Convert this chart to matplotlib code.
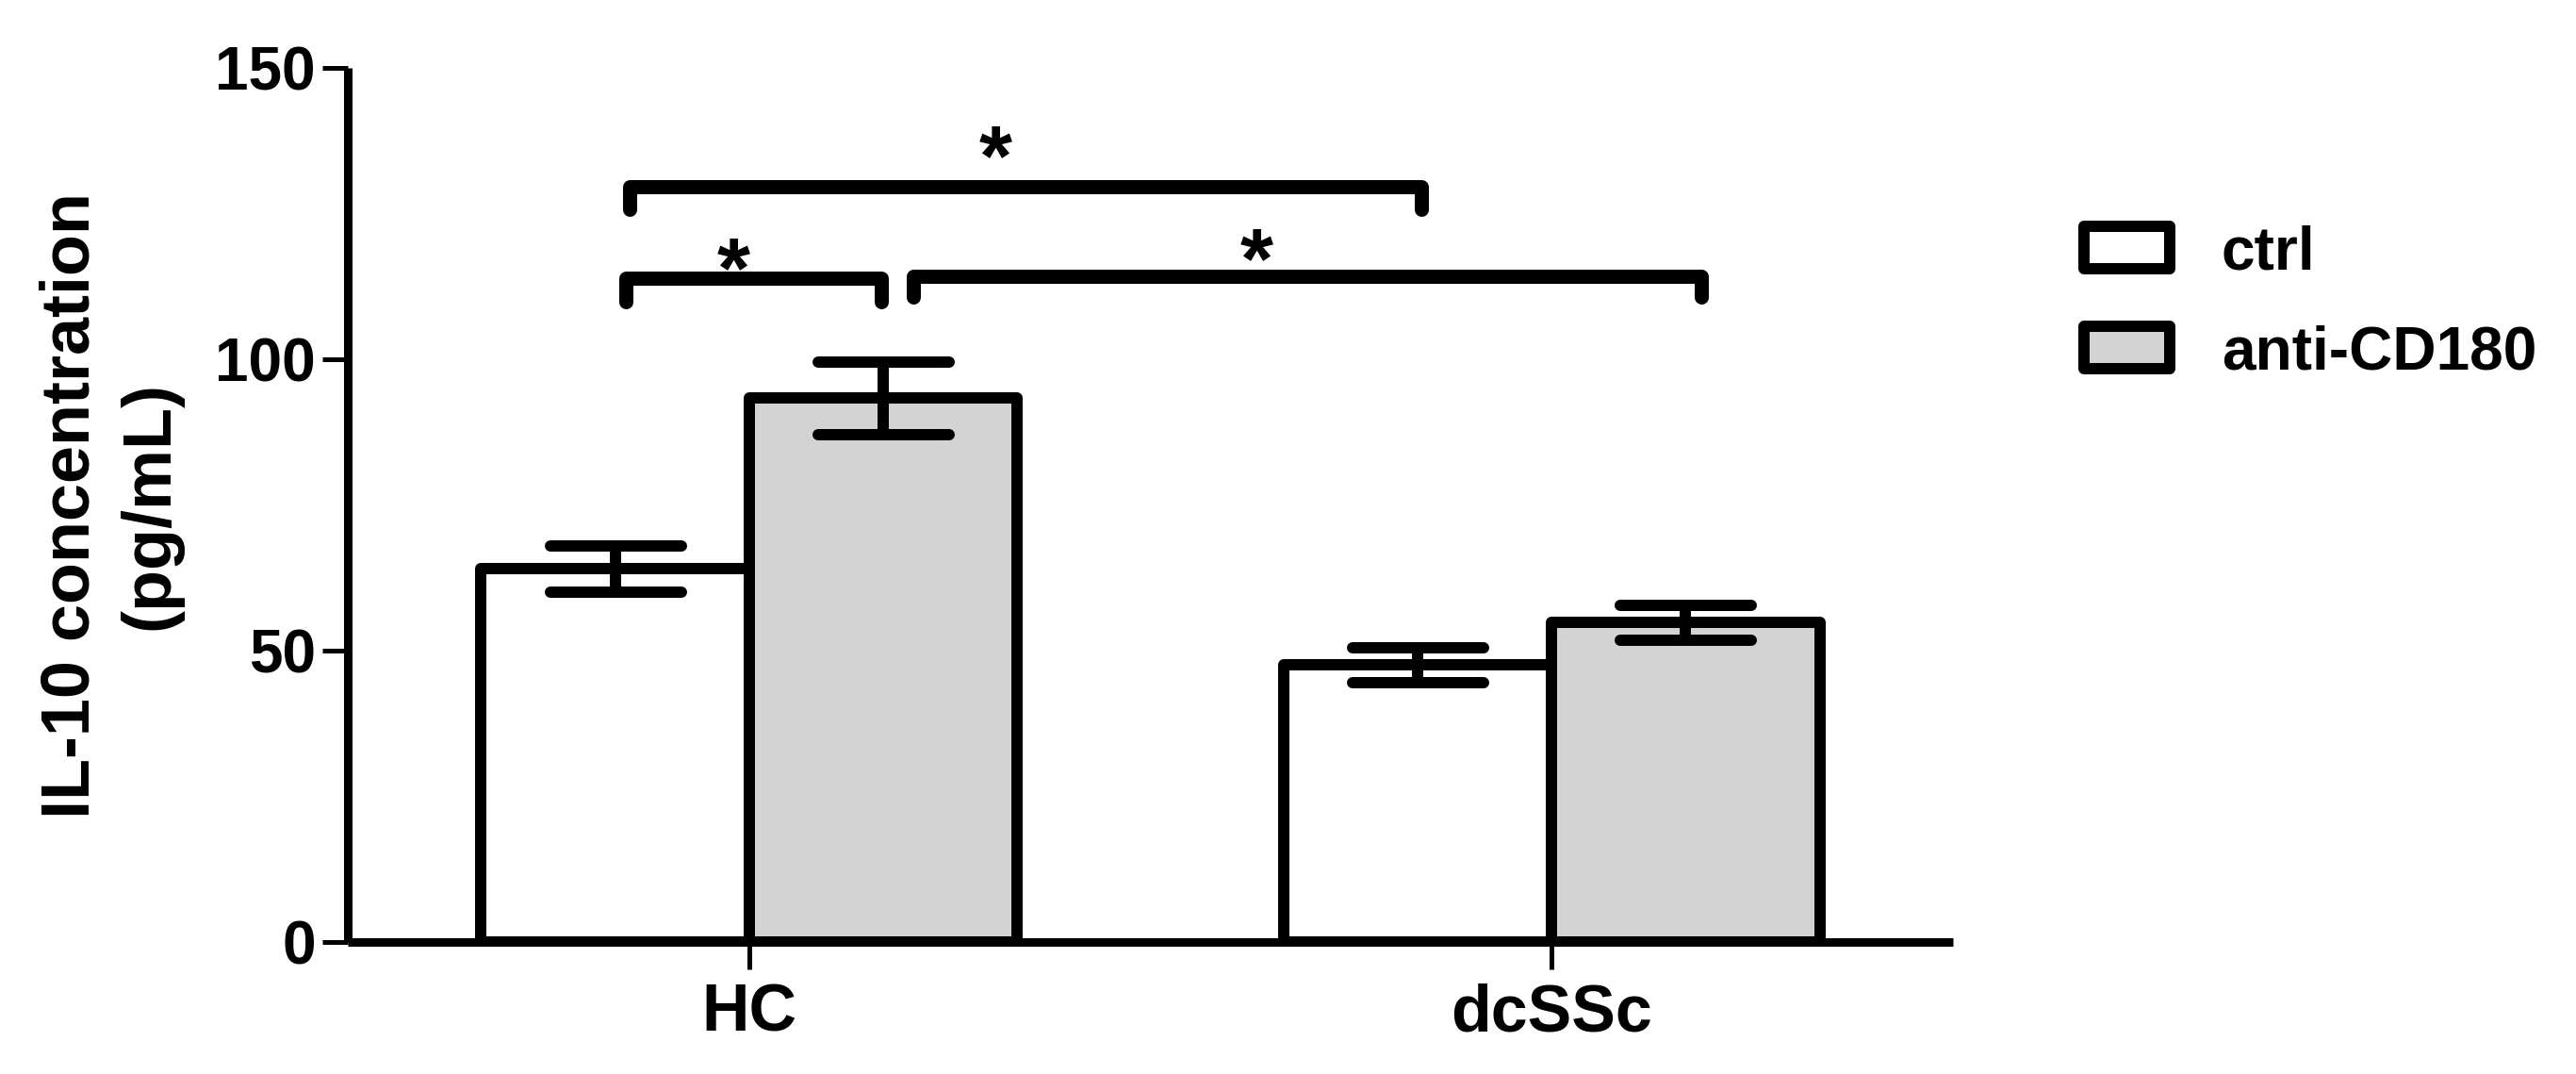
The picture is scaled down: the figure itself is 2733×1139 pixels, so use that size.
import numpy as np
import matplotlib
matplotlib.use("Agg")
import matplotlib.pyplot as plt
from matplotlib.markers import MarkerStyle

plt.rcParams['font.family'] = ['Liberation Sans', 'DejaVu Sans']
plt.rcParams['font.weight'] = 'bold'

# data
groups = ["HC", "dcSSc"]
series = ["ctrl", "anti-CD180"]
ctrl_mean = [64.0, 47.5]
ctrl_err = [4.0, 3.0]
anti_mean = [93.3, 54.8]
anti_err = [6.2, 3.0]
colors = ["white", "#d3d3d3"]

# significance brackets: x start, x end, y of bar, y of ends
brackets = [(-0.149, 0.838, 129.6, 125.8),
            (-0.153, 0.165, 113.9, 109.9),
            (0.205, 1.186, 114.2, 110.6)]
star_x = [0.307, -0.019, 0.632]
star_y = [138.3, 119.1, 120.7]

W, H, DPI = 2733, 1139, 72
fig = plt.figure(figsize=(W / DPI, H / DPI), dpi=DPI)
ax = fig.add_axes([369 / W, 1 - 999 / H, (2072 - 369) / W, (999 - 72) / H])

x = np.arange(len(groups))
w = 0.334
lw = 12

bar_kw = dict(edgecolor="black", linewidth=lw, joinstyle="round", zorder=2)
ax.bar(x - w / 2, ctrl_mean, w, color=colors[0], label=series[0], **bar_kw)
ax.bar(x + w / 2, anti_mean, w, color=colors[1], label=series[1], **bar_kw)

for xs, m, e in [(x - w / 2, ctrl_mean, ctrl_err), (x + w / 2, anti_mean, anti_err)]:
    _, caps, bars = ax.errorbar(xs, m, yerr=e, fmt="none", ecolor="black",
                                elinewidth=lw, capsize=69.5, capthick=lw, zorder=3)
    for c in caps:
        c.set_marker(MarkerStyle("_", capstyle="round"))
    for b in bars:
        b.set_capstyle("butt")

for (x1, x2, yt, ye) in brackets:
    ax.plot([x1, x1, x2, x2], [ye, yt, yt, ye], color="black", lw=15,
            solid_capstyle="round", solid_joinstyle="round", zorder=3,
            clip_on=False)
for sx, sy in zip(star_x, star_y):
    ax.annotate("*", xy=(sx, sy), xytext=(0, -52), textcoords="offset points",
                ha="center", va="baseline", fontsize=90, fontweight="bold",
                annotation_clip=False)

ax.set_xlim(-0.5, 1.5)
ax.set_ylim(0, 150)
ax.set_yticks([0, 50, 100, 150])
ax.set_xticks(x)
ax.set_xticklabels(groups)

for s in ["top", "right"]:
    ax.spines[s].set_visible(False)
for s in ["left", "bottom"]:
    ax.spines[s].set_linewidth(9)
    ax.spines[s].set_capstyle("butt")

ax.tick_params(axis="y", length=27, width=5, pad=7, labelsize=64)
ax.tick_params(axis="x", length=29, width=5, pad=14, labelsize=70)
for t in ax.get_xticklabels() + ax.get_yticklabels():
    t.set_fontweight("bold")

ax.set_ylabel("IL-10 concentration\n(pg/mL)", fontsize=72, fontweight="bold",
              linespacing=1.3)
ax.yaxis.set_label_coords(-0.103, 0.5)

leg = ax.legend(loc="upper left", bbox_to_anchor=(2211 / W, 1 - 238 / H),
                bbox_transform=fig.transFigure, frameon=False, borderpad=0,
                borderaxespad=0, fontsize=64, handlelength=1.42, handleheight=0.7,
                handletextpad=0.86, labelspacing=0.72)
for p in leg.get_patches():
    p.set_linewidth(12)
    p.set_joinstyle("round")
for t in leg.get_texts():
    t.set_fontweight("bold")

fig.savefig("out.png", dpi=DPI)
